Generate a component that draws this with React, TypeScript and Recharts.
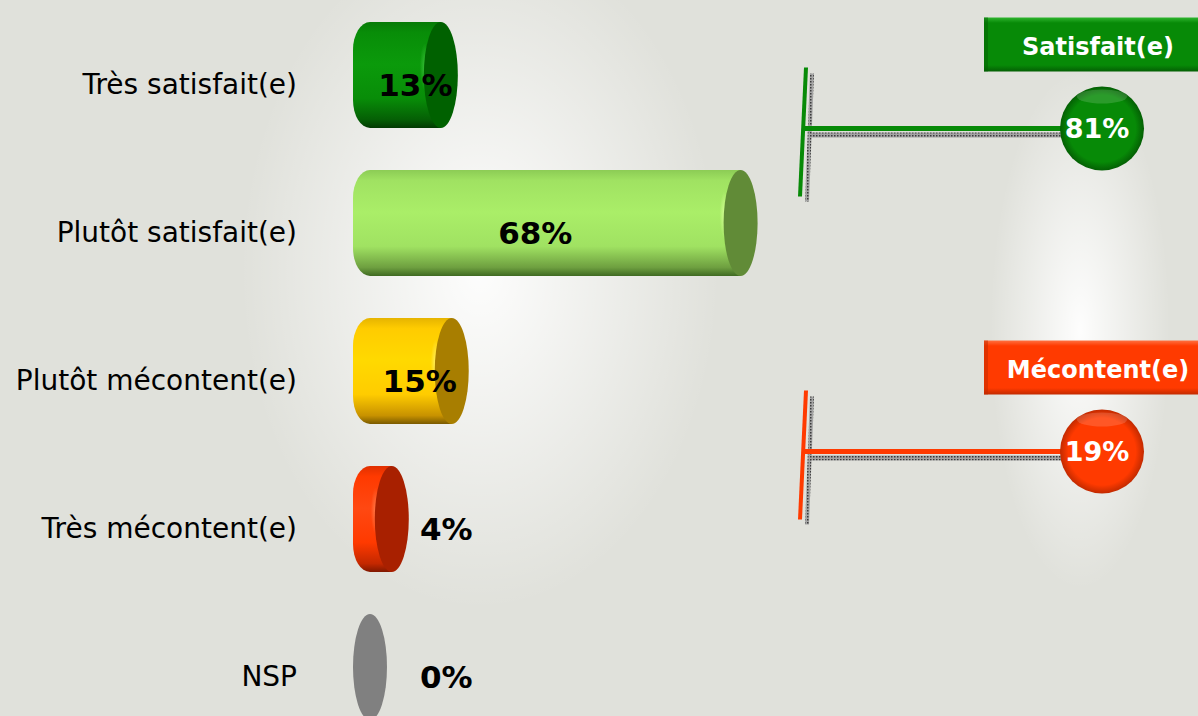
import React from "react";
import { BarChart, Bar, XAxis, YAxis, LabelList } from "recharts";

// left block: answer categories and their shares
const categories = [
  "Très satisfait(e)",
  "Plutôt satisfait(e)",
  "Plutôt mécontent(e)",
  "Très mécontent(e)",
  "NSP",
];
const shares = [13, 68, 15, 4, 0];

// right block: grouped totals
const groups = ["Satisfait(e)", "Mécontent(e)"];
const groupShares = [81, 19];

const rows = categories.map((name, i) => ({ name, value: shares[i] }));
const groupRows = groups.map((name, i) => ({ name, value: groupShares[i] }));

const palette = [
  { edge: "#077a07", mid: "#088d08", light: "#0b9a0b", dark: "#055f05", shadow: "#023a02", cap: "#006100", glint: "#3cc03c" },
  { edge: "#8ccc55", mid: "#a0e262", light: "#aaee68", dark: "#6e9f40", shadow: "#3f6a22", cap: "#618b37", glint: "#d8ff9a" },
  { edge: "#e6b400", mid: "#ffcc00", light: "#ffd900", dark: "#c89200", shadow: "#7a5a00", cap: "#a87e00", glint: "#fff070" },
  { edge: "#e03000", mid: "#ff3a00", light: "#ff4812", dark: "#c42800", shadow: "#801800", cap: "#a82000", glint: "#ff8050" },
  { edge: "#808080", mid: "#808080", light: "#808080", dark: "#808080", shadow: "#808080", cap: "#808080", glint: "#808080" },
];

const groupPalette = [
  { main: "#078a07", light: "#2fb52f", dark: "#045f04" },
  { main: "#ff3a00", light: "#ff7040", dark: "#c22a00" },
];

const FONT = "DejaVu Sans, Verdana, sans-serif";
const CAP = 17;

function Cylinder(props: any) {
  const { x, y, width, height, index } = props;
  const p = palette[index];
  const w = Math.max(width || 0, 0);
  const top = y;
  const bot = y + height;
  const ry = height / 2;
  const cx = x + CAP + w;
  const id = `cyl-${index}`;
  const cr = 28;
  const body =
    `M${x + CAP},${top} L${cx},${top} L${cx},${bot} L${x + CAP},${bot} ` +
    `A${CAP},${cr} 0 0 1 ${x},${bot - cr} L${x},${top + cr} A${CAP},${cr} 0 0 1 ${x + CAP},${top} Z`;
  return (
    <g>
      <defs>
        <linearGradient id={id} x1="0" y1="0" x2="0" y2="1">
          <stop offset="0" stopColor={p.edge} />
          <stop offset="0.1" stopColor={p.mid} />
          <stop offset="0.4" stopColor={p.light} />
          <stop offset="0.72" stopColor={p.mid} />
          <stop offset="0.92" stopColor={p.dark} />
          <stop offset="1" stopColor={p.shadow} />
        </linearGradient>
        <radialGradient id={`${id}-g`} cx="0.5" cy="0.5" r="0.5">
          <stop offset="0" stopColor={p.glint} stopOpacity={0.9} />
          <stop offset="1" stopColor={p.glint} stopOpacity={0} />
        </radialGradient>
      </defs>
      {w > 0 && <path d={body} fill={`url(#${id})`} />}
      {w > 0 && <ellipse cx={cx - CAP + 1} cy={y + ry * 0.85} rx={5} ry={ry * 0.45} fill={`url(#${id}-g)`} />}
      <ellipse cx={cx} cy={y + ry} rx={CAP} ry={ry} fill={p.cap} />
    </g>
  );
}

function ValueLabel(props: any) {
  const vb = props.viewBox || {};
  const x = props.x ?? vb.x;
  const y = props.y ?? vb.y;
  const width = props.width ?? vb.width ?? 0;
  const height = props.height ?? vb.height;
  const value = Number(props.value);
  const inside = value >= 10;
  const tx = inside ? x + 2 * CAP + width * 0.4 : x + 67;
  return (
    <text
      x={tx}
      y={y + height / 2 + 21}
      textAnchor={inside ? "middle" : "start"}
      fontFamily={FONT}
      fontWeight="bold"
      fontSize={31}
      fill="#000"
    >
      {value}%
    </text>
  );
}

function CategoryTick(props: any) {
  const { x, y, payload } = props;
  return (
    <text x={x} y={y + 19} textAnchor="end" fontFamily={FONT} fontSize={28} fill="#000">
      {payload.value}
    </text>
  );
}

function Callout(props: any) {
  const { x, y, height, index, value, payload } = props;
  const c = groupPalette[index];
  const ly = y + height / 2 - 3.5;
  const r = 42;
  const cx = x + 296;
  const boxX = x + 178;
  const boxY = ly - 111;
  return (
    <g>
      <defs>
        <pattern id={`dots-${index}`} width="3" height="3" patternUnits="userSpaceOnUse">
          <rect width="3" height="3" fill="#a4a4a4" />
          <rect width="1.5" height="1.5" fill="#3a3a3a" />
        </pattern>
        <radialGradient id={`ball-${index}`} cx="0.5" cy="0.5" r="0.5">
          <stop offset="0" stopColor={c.main} />
          <stop offset="0.8" stopColor={c.main} />
          <stop offset="1" stopColor={c.dark} />
        </radialGradient>
        <linearGradient id={`tab-${index}`} x1="0" y1="0" x2="0" y2="1">
          <stop offset="0" stopColor={c.light} />
          <stop offset="0.1" stopColor={c.main} />
          <stop offset="0.88" stopColor={c.main} />
          <stop offset="1" stopColor={c.dark} />
        </linearGradient>
      </defs>
      {/* shadow of the bracket */}
      <line x1={x + 6} y1={ly - 55} x2={x + 1} y2={ly + 73} stroke={`url(#dots-${index})`} strokeWidth={4} />
      <rect x={x + 4} y={ly + 4} width={cx - r - x - 2} height={5} fill={`url(#dots-${index})`} />
      {/* bracket */}
      <line x1={x} y1={ly - 61} x2={x - 6} y2={ly + 68} stroke={c.main} strokeWidth={4} />
      <rect x={x - 2} y={ly - 2.5} width={cx - r - x + 6} height={5} fill={c.main} />
      {/* bubble */}
      <circle cx={cx} cy={ly} r={r} fill={`url(#ball-${index})`} />
      <ellipse cx={cx} cy={ly - r + 10} rx={r * 0.6} ry={7} fill="#ffffff" opacity={0.15} />
      <text x={cx - 5} y={ly + 9} textAnchor="middle" fontFamily={FONT} fontWeight="bold" fontSize={27} fill="#fff">
        {value}%
      </text>
      {/* header tab */}
      <rect x={boxX} y={boxY} width={240} height={54} fill={`url(#tab-${index})`} />
      <rect x={boxX} y={boxY} width={4} height={54} fill={c.dark} opacity={0.5} />
      <text x={boxX + 114} y={boxY + 37} textAnchor="middle" fontFamily={FONT} fontWeight="bold" fontSize={24} fill="#fff">
        {payload.name}
      </text>
    </g>
  );
}

export default function App() {
  return (
    <div
      style={{
        position: "fixed",
        left: 0,
        top: 0,
        width: 1198,
        height: 716,
        overflow: "hidden",
        background:
          "radial-gradient(ellipse 240px 340px at 480px 270px, rgba(255,255,255,0.95), rgba(255,255,255,0) 100%)," +
          "radial-gradient(ellipse 90px 260px at 1080px 330px, rgba(255,255,255,0.95), rgba(255,255,255,0) 100%)," +
          "#e0e1db",
      }}
    >
      <div style={{ position: "absolute", left: 0, top: 0 }}>
        <BarChart
          width={898}
          height={742}
          data={rows}
          layout="vertical"
          margin={{ top: 1, right: 0, bottom: 1, left: 0 }}
        >
          <XAxis type="number" domain={[0, 100]} hide />
          <YAxis
            type="category"
            dataKey="name"
            width={353}
            tickLine={false}
            axisLine={false}
            tickSize={0}
            tickMargin={56}
            interval={0}
            tick={<CategoryTick />}
          />
          <Bar dataKey="value" barSize={106} shape={<Cylinder />} isAnimationActive={false}>
            <LabelList dataKey="value" content={<ValueLabel />} />
          </Bar>
        </BarChart>
      </div>
      <div style={{ position: "absolute", left: 780, top: -30 }}>
        <BarChart
          width={418}
          height={746}
          data={groupRows}
          layout="vertical"
          margin={{ top: 0, right: 0, bottom: 100, left: 26 }}
        >
          <XAxis type="number" domain={[0, 100]} hide />
          <YAxis type="category" dataKey="name" hide />
          <Bar dataKey="value" barSize={128} shape={<Callout />} isAnimationActive={false} />
        </BarChart>
      </div>
    </div>
  );
}
